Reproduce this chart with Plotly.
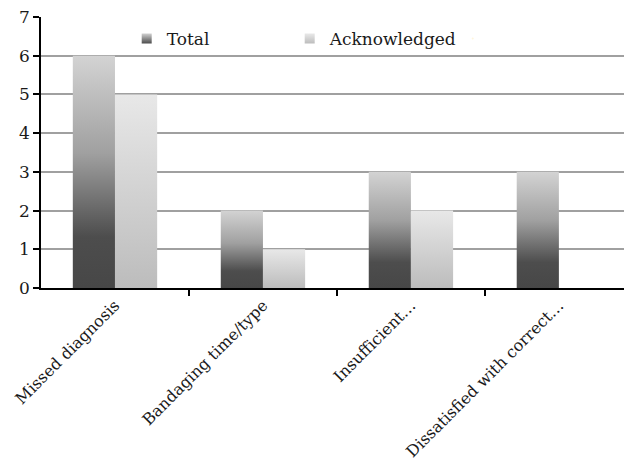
import plotly.graph_objects as go

categories = ["Missed diagnosis", "Bandaging time/type", "Insufficient…", "Dissatisfied with correct…"]
total = [6, 2, 3, 3]
acknowledged = [5, 1, 2, 0]
y_ticks = [0, 1, 2, 3, 4, 5, 6, 7]

FONT = "DejaVu Serif"
BAR_W = 0.285

total_scale = [[0, "#474747"], [0.22, "#4d4d4d"], [0.58, "#a0a0a0"], [1, "#d3d3d3"]]
ack_scale = [[0, "#bcbcbc"], [1, "#e8e8e8"]]

fig = go.Figure()

def add_bars(values, offset, scale, name, c0, c1):
    for i, v in enumerate(values):
        if v <= 0:
            continue
        x0 = i + offset
        x1 = x0 + BAR_W
        fig.add_trace(go.Scatter(
            x=[x0, x0, x1, x1, x0], y=[0, v, v, 0, 0],
            mode="none", fill="toself",
            fillgradient=dict(type="vertical", colorscale=scale),
            showlegend=False, hoverinfo="skip", name=name))
    fig.add_trace(go.Scatter(
        x=[None], y=[None], mode="markers", name=name,
        marker=dict(symbol="square", size=10, color=c0,
                    gradient=dict(type="vertical", color=c1)),
        showlegend=True))

add_bars(total, -BAR_W, total_scale, "Total", "#d0d0d0", "#4a4a4a")
add_bars(acknowledged, 0, ack_scale, "Acknowledged", "#e8e8e8", "#bcbcbc")

# invisible spacer entry so the last legend label is not clipped
fig.add_trace(go.Scatter(x=[None], y=[None], mode="markers", name="\u00a0",
                         marker=dict(opacity=0, size=1), showlegend=True, hoverinfo="skip"))

fig.update_layout(
    width=624, height=460,
    margin=dict(l=41, r=0, t=17, b=172),
    paper_bgcolor="white", plot_bgcolor="white",
    font=dict(family=FONT, size=16, color="#1a1a1a"),
    legend=dict(orientation="h", x=0.147, y=0.985, xanchor="left", yanchor="top",
                bgcolor="rgba(0,0,0,0)", font=dict(family=FONT, size=17),
                entrywidth=118, entrywidthmode="pixels", itemwidth=30),
    xaxis=dict(range=[-0.5, 3.44], tickmode="array", tickvals=[0, 1, 2, 3],
               ticktext=categories, tickangle=-45, ticks="", showgrid=False,
               zeroline=False, showline=True, linecolor="black", linewidth=1.5,
               tickfont=dict(family=FONT, size=16, color="#1a1a1a"),
               minor=dict(tickmode="array", tickvals=[0.5, 1.5, 2.5], ticks="outside",
                          ticklen=6, tickwidth=1.5, tickcolor="black", showgrid=False)),
    yaxis=dict(range=[0, 7], tickmode="array", tickvals=y_ticks, ticks="outside",
               ticklen=6, tickwidth=1.5, tickcolor="black", showline=True,
               linecolor="black", linewidth=1.5, showgrid=True, gridcolor="#a0a0a0",
               gridwidth=2, zeroline=False,
               tickfont=dict(family=FONT, size=17, color="#1a1a1a")),
)

fig.write_html("out.html")
